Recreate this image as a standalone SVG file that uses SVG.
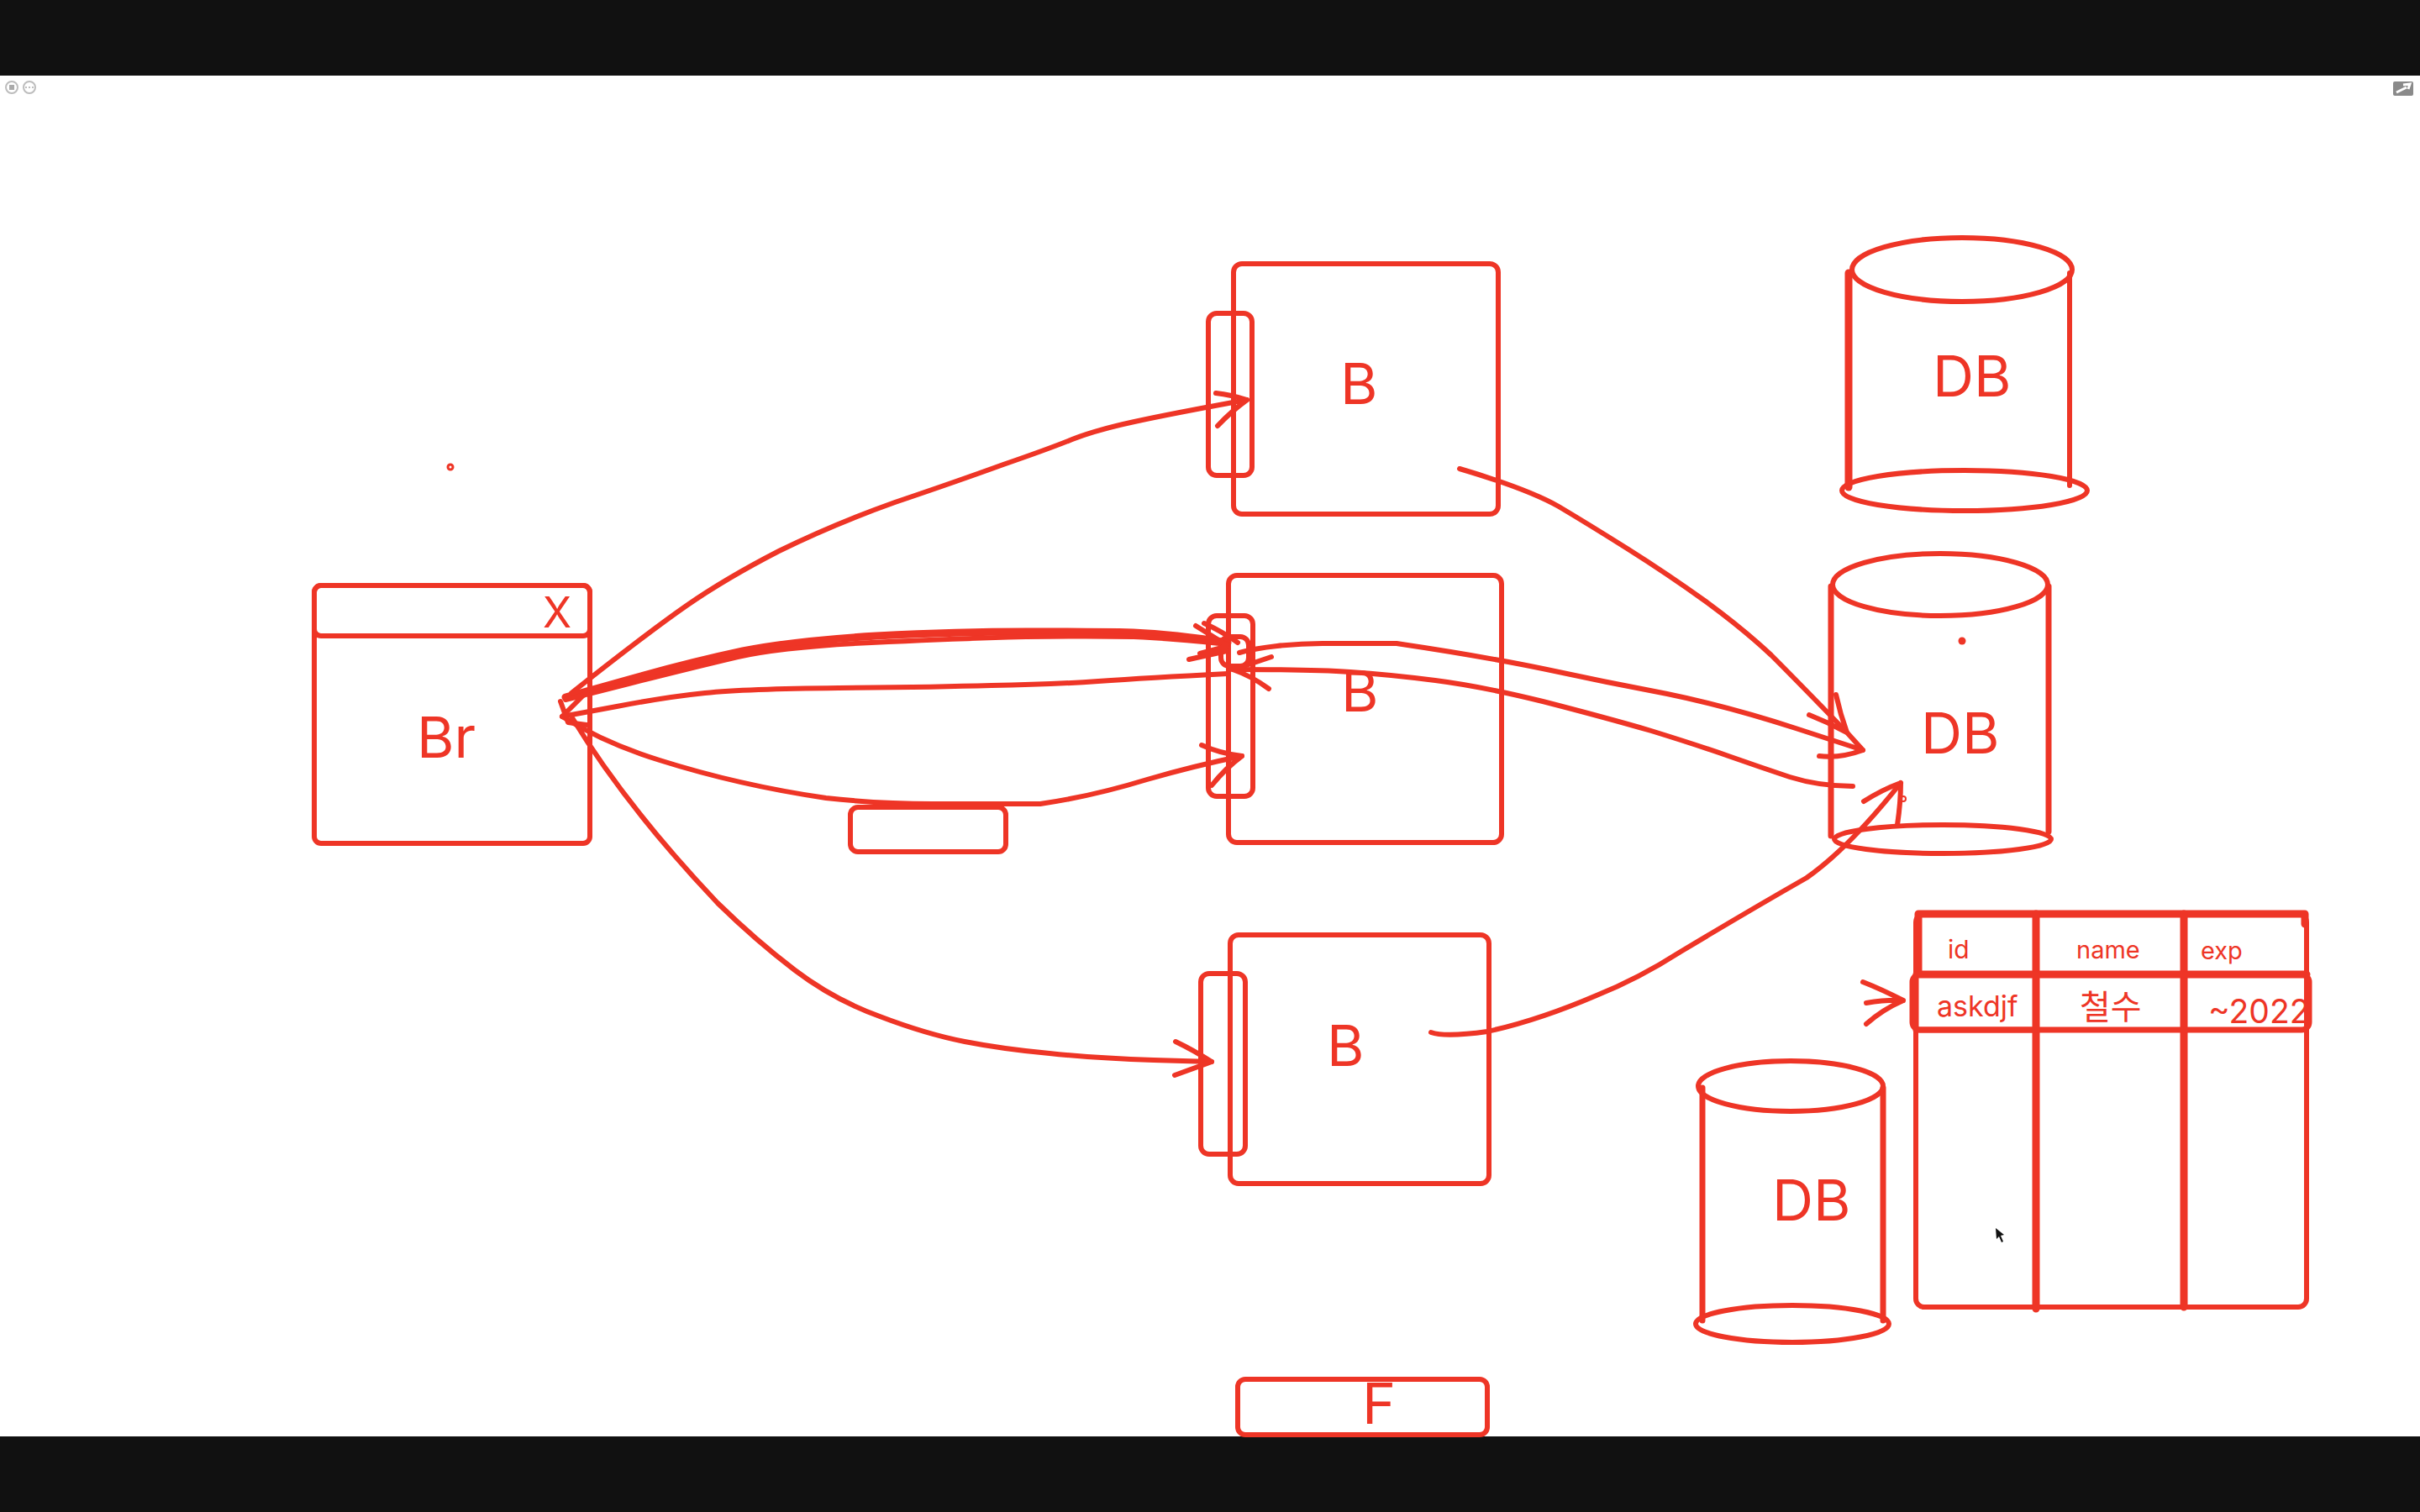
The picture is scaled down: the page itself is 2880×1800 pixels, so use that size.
<svg xmlns="http://www.w3.org/2000/svg" width="2880" height="1800" viewBox="0 0 2880 1800">
<style>
.s{fill:none;stroke:#ee3526;stroke-width:6;stroke-linecap:round;stroke-linejoin:round}
.t{stroke-width:9}
.m{stroke-width:7}
.c{stroke-width:6}
text{fill:#ee3526;font-family:Inter,"Noto Sans CJK KR",sans-serif;font-size:68px}
.i{fill:none;stroke:#bdbdbd;stroke-width:2}
</style>
<rect width="2880" height="1800" fill="#fff"/>
<g id="chrome">
<rect width="2880" height="90" fill="#111"/>
<rect y="1710" width="2880" height="90" fill="#111"/>
<circle class="i" cx="14" cy="104" r="7"/><rect x="11" y="101" width="6" height="6" fill="#aaa"/>
<circle class="i" cx="35" cy="104" r="7"/><circle cx="31" cy="104" r="1" fill="#aaa"/><circle cx="35" cy="104" r="1" fill="#aaa"/><circle cx="39" cy="104" r="1" fill="#aaa"/>
<rect x="2848" y="97" width="24" height="17" rx="2" fill="#8a8a8a"/>
<path d="M2852 110L2864 104M2860 101L2868 100L2866 106" fill="none" stroke="#fff" stroke-width="3"/>
</g>
<g id="browser">
<rect class="s" x="374" y="697" width="328" height="307" rx="8"/>
<rect class="s" x="374" y="697" width="328" height="60" rx="8"/>
<text x="646" y="747" style="font-size:50px">X</text>
<text x="496" y="902">Br</text>
<circle cx="536" cy="556" r="3" fill="none" stroke="#ee3526" stroke-width="3"/>
</g>
<g id="server1">
<rect class="s" x="1468" y="314" width="315" height="298" rx="10"/>
<rect class="s" x="1438" y="373" width="52" height="193" rx="10"/>
<text x="1595" y="481">B</text>
</g>
<g id="server2">
<rect class="s" x="1462" y="685" width="325" height="318" rx="10"/>
<rect class="s" x="1438" y="733" width="53" height="215" rx="10"/>
<rect class="s" x="1453" y="758" width="33" height="35" rx="10"/>
<text x="1596" y="847">B</text>
</g>
<g id="server3">
<rect class="s" x="1464" y="1113" width="308" height="296" rx="10"/>
<rect class="s" x="1429" y="1159" width="53" height="215" rx="10"/>
<text x="1579" y="1269">B</text>
</g>
<g id="small-box">
<rect class="s" x="1012" y="961" width="185" height="53" rx="9"/>
</g>
<g id="f-box">
<rect class="s" x="1473" y="1642" width="297" height="66" rx="9"/>
<text x="1621" y="1695">F</text>
</g>
<g id="db1">
<path class="s t" d="M2200 325V580"/><path class="s" d="M2463 325V578"/>
<ellipse class="s" cx="2335" cy="321" rx="131" ry="38"/>
<ellipse class="s" cx="2338" cy="584" rx="146" ry="24"/>
<text x="2300" y="472">DB</text>
</g>
<g id="db2">
<path class="s m" d="M2179 698V995"/><path class="s m" d="M2438 698V990"/>
<ellipse class="s" cx="2309" cy="696" rx="128" ry="37"/>
<ellipse class="s" cx="2312" cy="999" rx="129" ry="17"/>
<text x="2286" y="897">DB</text>
<circle cx="2335" cy="763" r="4.500" fill="#ee3526"/>
<circle cx="2265" cy="951" r="3" fill="none" stroke="#ee3526" stroke-width="2"/>
</g>
<g id="db3">
<path class="s m" d="M2026 1295V1572"/><path class="s m" d="M2241 1295V1572"/>
<ellipse class="s" cx="2131" cy="1293" rx="110" ry="30"/>
<ellipse class="s" cx="2133" cy="1576" rx="115" ry="22"/>
<text x="2109" y="1453">DB</text>
</g>
<g id="table">
<rect class="s" x="2280" y="1088" width="465" height="468" rx="10"/>
<path class="s t" d="M2283 1088H2743M2283 1088V1158M2743 1088V1100"/>
<path class="s t" d="M2423 1088V1558M2599 1088V1556"/>
<path class="s t" d="M2284 1160H2745"/>
<rect class="s m" x="2276" y="1160" width="472" height="66" rx="9"/>
<path class="s" d="M2280 1160H2423V1226H2280Z" style="stroke-width:7"/>
<text x="2318" y="1141" style="font-size:30px">id</text>
<text x="2471" y="1141" style="font-size:29px">name</text>
<text x="2619" y="1142" style="font-size:29px">exp</text>
<text x="2305" y="1210" style="font-size:34px">askdjf</text>
<text x="2475" y="1213" style="font-size:40px">철수</text>
<text x="2628" y="1218" style="font-size:39px">~2022</text>
<path class="s" d="M2217 1169Q2240 1178 2265 1191Q2240 1202 2221 1219M2221 1194Q2245 1190 2265 1191"/>
</g>
<g id="connectors">
<path class="s c" d="M680 825Q771 753 817 721Q863 689 927 656Q992 624 1065 598Q1139 573 1194 553Q1249 534 1276 523Q1304 512 1350 502Q1396 492 1484 476"/>
<path class="s" d="M1447 468Q1465 470 1484 476Q1465 490 1449 507"/>
<path class="s c" d="M1737 558Q1818 582 1855 603Q1892 625 1938 654Q1984 683 2030 716Q2075 749 2108 780Q2140 812 2198 872"/>
<path class="s" d="M2185 827Q2190 850 2198 872M2153 851Q2176 860 2198 872L2217 893Q2190 903 2165 900"/>
<path class="s c" d="M1475 777Q1493 772 1520 769Q1547 766 1574 766L1662 766Q1763 781 1836 796Q1910 812 1984 826Q2057 841 2137 867L2217 893"/>
<path class="s c" d="M2205 936Q2165 936 2130 925Q2094 913 2057 900Q2020 887 1965 870Q1910 854 1836 835Q1763 817 1708 810Q1653 803 1607 800Q1561 797 1467 797"/>
<path class="s" d="M1513 782Q1490 790 1467 797Q1490 805 1510 820"/>
<path class="s t" d="M673 830L748 809Q823 788 884 775Q944 763 1043 757Q1142 752 1221 752Q1301 752 1349 753Q1397 755 1461 765"/>
<path class="s c" d="M673 833L748 814Q823 795 878 782Q932 770 1037 765Q1142 760 1221 758Q1301 757 1349 758Q1397 760 1461 767"/>
<path class="s" d="M1423 745L1460 768M1433 742Q1455 752 1473 765M1415 785L1460 775M1428 778L1458 770"/>
<path class="s c" d="M1461 802Q1365 807 1307 811Q1250 815 1180 816Q1110 818 998 819Q887 820 839 825Q791 830 734 841L669 853"/>
<path class="s c" d="M669 853Q720 885 785 905Q880 935 983 950Q1046 957 1110 957L1238 957Q1300 948 1365 928Q1420 912 1478 900"/>
<path class="s" d="M1430 887Q1452 897 1478 900Q1458 915 1442 935"/>
<path class="s c" d="M667 835L676 860L698 863M669 853L699 823"/>
<path class="s c" d="M680 853Q745 960 854 1075Q900 1120 946 1155Q992 1190 1047 1210Q1102 1231 1148 1240Q1194 1249 1249 1254Q1304 1260 1373 1262L1442 1264"/>
<path class="s" d="M1399 1240Q1420 1250 1442 1264Q1420 1272 1398 1280"/>
<path class="s c" d="M1703 1229Q1720 1235 1770 1228Q1830 1215 1900 1185Q1950 1165 2000 1133Q2080 1085 2150 1045Q2200 1010 2262 932"/>
<path class="s" d="M2218 954Q2240 940 2262 932Q2262 955 2258 982"/>
</g>
<g id="cursor">
<path d="M2375 1462L2376 1475L2379 1472L2382 1479L2384 1478L2381 1471L2385 1470Z" fill="#111"/>
</g>
</svg>
